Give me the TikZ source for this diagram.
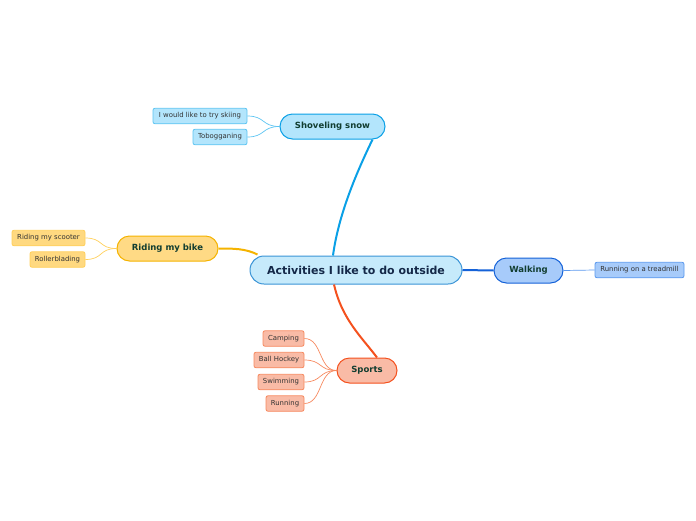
\documentclass[tikz,border=0pt]{standalone}
\usepackage{fontspec}
\setmainfont{DejaVu Sans}
\definecolor{mainfill}{HTML}{C6EAFB}
\definecolor{maindraw}{HTML}{3A94D6}
\definecolor{bluefill}{HTML}{B3E5FC}
\definecolor{bluedraw}{HTML}{0AA0E6}
\definecolor{blueleafdraw}{HTML}{5CC4F2}
\definecolor{yelfill}{HTML}{FFDA85}
\definecolor{yeldraw}{HTML}{F5B300}
\definecolor{yelleaf}{HTML}{FFD980}
\definecolor{yelleafdraw}{HTML}{FFCF5A}
\definecolor{wfill}{HTML}{A7CBFA}
\definecolor{wdraw}{HTML}{1562D8}
\definecolor{wleafdraw}{HTML}{5A98EE}
\definecolor{sfill}{HTML}{F9BBA6}
\definecolor{sdraw}{HTML}{F4511E}
\definecolor{sleafdraw}{HTML}{F6895F}
\definecolor{maintext}{HTML}{142848}
\definecolor{midtext}{HTML}{113D30}
\definecolor{leaftext}{HTML}{333333}
\tikzset{
  mainnode/.style={draw=maindraw, fill=mainfill, line width=1pt, rounded corners=14pt,
    minimum width=212pt, minimum height=28pt, inner sep=0pt,
    font=\fontsize{11}{13}\selectfont\bfseries, text=maintext},
  midnode/.style={line width=1pt, rounded corners=12.5pt, minimum height=25pt, inner sep=0pt,
    font=\fontsize{8.5}{10}\selectfont\bfseries, text=midtext},
  leafnode/.style={line width=0.8pt, rounded corners=2pt, minimum height=15.5pt, inner sep=0pt,
    font=\fontsize{6.9}{8}\selectfont, text=leaftext},
  branch/.style={line width=2pt},
  twig/.style={line width=0.7pt},
}
\begin{document}
\begin{tikzpicture}[x=1pt,y=-1pt]
\useasboundingbox (0,0) rectangle (696,520);
% main
\node[mainnode] (main) at (356,270) {Activities I like to do outside};
% mid nodes
\node[midnode, draw=bluedraw, fill=bluefill, minimum width=105pt] (shov) at (332.5,126.5) {Shoveling snow};
\node[midnode, draw=yeldraw, fill=yelfill, minimum width=101pt] (bike) at (167.5,248.5) {Riding my bike};
\node[midnode, draw=wdraw, fill=wfill, minimum width=69pt] (walk) at (528.5,270.5) {Walking};
\node[midnode, draw=sdraw, fill=sfill, minimum width=60pt] (sports) at (367,370.5) {Sports};
% leaves
\node[leafnode, draw=blueleafdraw, fill=bluefill, minimum width=94pt] (ski) at (200,116) {I would like to try skiing};
\node[leafnode, draw=blueleafdraw, fill=bluefill, minimum width=54pt] (tob) at (220,137) {Tobogganing};
\node[leafnode, draw=yelleafdraw, fill=yelleaf, minimum width=73pt] (scoot) at (48.5,238) {Riding my scooter};
\node[leafnode, draw=yelleafdraw, fill=yelleaf, minimum width=55pt] (roll) at (57.5,259.5) {Rollerblading};
\node[leafnode, draw=wleafdraw, fill=wfill, minimum width=89pt] (tread) at (639.5,270) {Running on a treadmill};
\node[leafnode, draw=sleafdraw, fill=sfill, minimum width=41pt] (camp) at (283.5,338.5) {Camping};
\node[leafnode, draw=sleafdraw, fill=sfill, minimum width=50pt] (hockey) at (279,360) {Ball Hockey};
\node[leafnode, draw=sleafdraw, fill=sfill, minimum width=46pt] (swim) at (281,382) {Swimming};
\node[leafnode, draw=sleafdraw, fill=sfill, minimum width=38pt] (run) at (285,403.5) {Running};
% branches
\draw[branch, bluedraw] ([xshift=-23pt]main.north) .. controls +(6,-45) and +(-12,25) .. ([xshift=40pt]shov.south);
\draw[branch, yeldraw] ([xshift=8pt,yshift=1pt]main.north west) .. controls +(-12,-6) and +(15,0) .. (bike.east);
\draw[branch, wdraw] (main.east) -- (walk.west);
\draw[branch, sdraw] ([xshift=-22pt]main.south) .. controls +(8,35) and +(-15,-20) .. ([xshift=10pt]sports.north);
% twigs
\draw[twig, blueleafdraw] (shov.west) .. controls +(-18,0) and +(18,0) .. (ski.east);
\draw[twig, blueleafdraw] (shov.west) .. controls +(-18,0) and +(18,0) .. (tob.east);
\draw[twig, yelleafdraw] (bike.west) .. controls +(-18,0) and +(18,0) .. (scoot.east);
\draw[twig, yelleafdraw] (bike.west) .. controls +(-18,0) and +(18,0) .. (roll.east);
\draw[twig, wleafdraw] (walk.east) -- (tread.west);
\draw[twig, sleafdraw] (sports.west) .. controls +(-18,0) and +(18,0) .. (camp.east);
\draw[twig, sleafdraw] (sports.west) .. controls +(-18,0) and +(18,0) .. (hockey.east);
\draw[twig, sleafdraw] (sports.west) .. controls +(-18,0) and +(18,0) .. (swim.east);
\draw[twig, sleafdraw] (sports.west) .. controls +(-18,0) and +(18,0) .. (run.east);
\end{tikzpicture}
\end{document}
